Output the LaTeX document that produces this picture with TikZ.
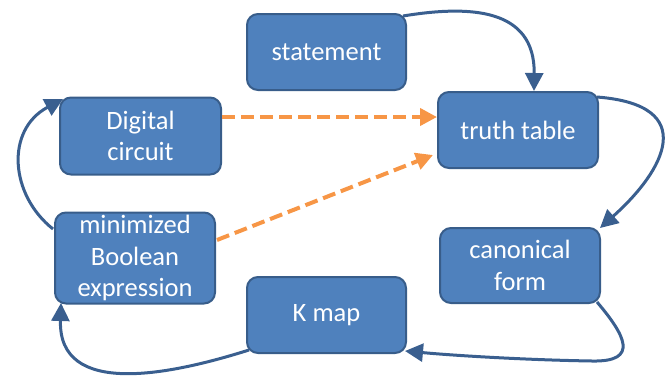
\documentclass[tikz,border=0pt]{standalone}
\usepackage{fontspec}
\setmainfont{Carlito}
\usetikzlibrary{arrows.meta}
\definecolor{boxfill}{HTML}{4F81BD}
\definecolor{boxline}{HTML}{385D8A}
\definecolor{arrowblue}{HTML}{3A5F8F}
\definecolor{dashorange}{HTML}{F79646}
\tikzset{
  stagebox/.style={draw=boxline, fill=boxfill, line width=2pt, rounded corners=11pt,
    text=white, align=center, inner sep=0pt,
    font=\fontsize{26.5}{31.5}\selectfont},
  flow/.style={draw=arrowblue, line width=3pt, -{Triangle[length=18pt,width=18pt]}},
  feed/.style={draw=dashorange, line width=4pt, dash pattern=on 13pt off 6pt,
    -{Triangle[length=17pt,width=17pt]}}
}
\begin{document}
\begin{tikzpicture}[x=1pt,y=-1pt]
\path[use as bounding box] (0,0) rectangle (672,381);
\node[stagebox, minimum width=159pt, minimum height=76pt] (st) at (326.5,52) {statement};
\node[stagebox, minimum width=161pt, minimum height=77pt] (dc) at (140.5,136) {Digital\\circuit};
\node[stagebox, minimum width=160pt, minimum height=76pt] (tt) at (518,130) {truth table};
\node[stagebox, minimum width=160pt, minimum height=91pt] (mb) at (135,258) {minimized\\Boolean\\expression};
\node[stagebox, minimum width=159pt, minimum height=76pt] (km) at (326.5,315) {K map};
\node[stagebox, minimum width=160pt, minimum height=75pt] (cf) at (520,265.5) {canonical\\form};

\coordinate (stout) at (403,16);
\coordinate (ttin) at (534,91);
\coordinate (ttout) at (597,97);
\coordinate (cfin) at (600,228);
\coordinate (cfout) at (597,302);
\coordinate (cfbend) at (592,361);
\coordinate (kmin) at (405,351);
\coordinate (kmout) at (249,350);
\coordinate (mbin) at (61,303);
\coordinate (mbout) at (53,229);
\coordinate (dcin) at (63,99);

\draw[flow] (stout) .. controls (470,5) and (535,8) .. (ttin);
\draw[flow] (ttout) .. controls (700,105) and (665,170) .. (cfin);
\draw[flow] (cfout) .. controls (625,335) and (640,362) .. (cfbend) .. controls (530,360) and (460,356) .. (kmin);
\draw[flow] (kmout) .. controls (170,375) and (58,398) .. (mbin);
\draw[flow] (mbout) .. controls (10,195) and (5,130) .. (dcin);

\draw[feed] (dc.east |- 0,117) -- (tt.west |- 0,117);
\draw[feed] (217,240) -- (433,155);
\end{tikzpicture}
\end{document}
